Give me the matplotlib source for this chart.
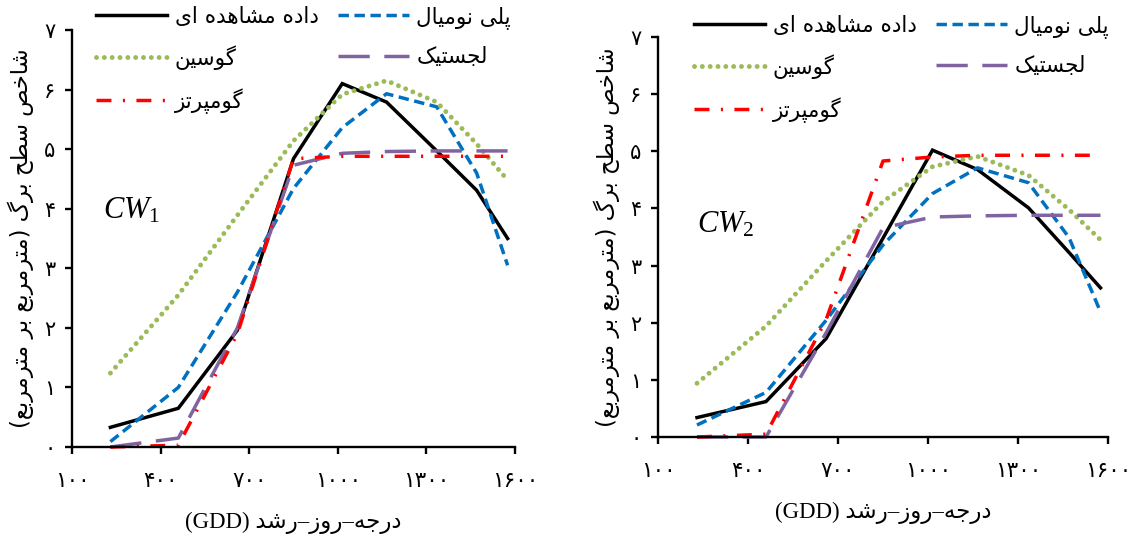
import matplotlib
matplotlib.use('Agg')
import matplotlib.pyplot as plt

# ---------------- data ----------------
gdd = [230, 460, 660, 850, 1015, 1165, 1335, 1470, 1575]

cw1_obs   = [0.33, 0.65, 1.96, 4.84, 6.10, 5.79, 4.97, 4.31, 3.50]
cw1_poly  = [0.09, 1.00, 2.60, 4.34, 5.36, 5.93, 5.71, 4.60, 3.05]
cw1_gauss = [1.24, 2.55, 3.89, 5.14, 5.92, 6.15, 5.79, 5.09, 4.48]
cw1_logis = [0.00, 0.15, 2.00, 4.73, 4.93, 4.96, 4.97, 4.97, 4.97]
cw1_gomp  = [0.00, 0.03, 1.90, 4.84, 4.88, 4.88, 4.88, 4.88, 4.88]

cw2_obs   = [0.34, 0.62, 1.72, 3.48, 5.02, 4.68, 4.01, 3.23, 2.61]
cw2_poly  = [0.21, 0.78, 2.04, 3.36, 4.26, 4.71, 4.45, 3.49, 2.19]
cw2_gauss = [0.94, 1.94, 3.08, 4.12, 4.73, 4.91, 4.58, 3.98, 3.45]
cw2_logis = [0.00, 0.00, 1.82, 3.66, 3.85, 3.87, 3.88, 3.88, 3.88]
cw2_gomp  = [0.00, 0.05, 2.05, 4.83, 4.90, 4.93, 4.93, 4.93, 4.93]

x_ticks = [100, 400, 700, 1000, 1300, 1600]
x_tick_labels = ['۱۰۰', '۴۰۰', '۷۰۰', '۱۰۰۰', '۱۳۰۰', '۱۶۰۰']
y_ticks = [0, 1, 2, 3, 4, 5, 6, 7]
y_tick_labels = ['۰', '۱', '۲', '۳', '۴', '۵', '۶', '۷']

lbl_obs = 'داده مشاهده ای'
lbl_poly = 'پلی نومیال'
lbl_gauss = 'گوسین'
lbl_logis = 'لجستیک'
lbl_gomp = 'گومپرتز'
y_title = 'شاخص سطح برگ (مترمربع بر مترمربع)'
x_title_fa = 'درجه–روز–رشد'
x_title_en = '(GDD)'

# ---------------- Persian shaping (presentation forms) ----------------
FORMS = {
    '\u0627': (0xFE8D, 0xFE8E, None, None),
    '\u0628': (0xFE8F, 0xFE90, 0xFE91, 0xFE92),
    '\u062A': (0xFE95, 0xFE96, 0xFE97, 0xFE98),
    '\u062C': (0xFE9D, 0xFE9E, 0xFE9F, 0xFEA0),
    '\u062D': (0xFEA1, 0xFEA2, 0xFEA3, 0xFEA4),
    '\u062E': (0xFEA5, 0xFEA6, 0xFEA7, 0xFEA8),
    '\u062F': (0xFEA9, 0xFEAA, None, None),
    '\u0631': (0xFEAD, 0xFEAE, None, None),
    '\u0632': (0xFEAF, 0xFEB0, None, None),
    '\u0633': (0xFEB1, 0xFEB2, 0xFEB3, 0xFEB4),
    '\u0634': (0xFEB5, 0xFEB6, 0xFEB7, 0xFEB8),
    '\u0635': (0xFEB9, 0xFEBA, 0xFEBB, 0xFEBC),
    '\u0637': (0xFEC1, 0xFEC2, 0xFEC3, 0xFEC4),
    '\u0639': (0xFEC9, 0xFECA, 0xFECB, 0xFECC),
    '\u0644': (0xFEDD, 0xFEDE, 0xFEDF, 0xFEE0),
    '\u0645': (0xFEE1, 0xFEE2, 0xFEE3, 0xFEE4),
    '\u0646': (0xFEE5, 0xFEE6, 0xFEE7, 0xFEE8),
    '\u0647': (0xFEE9, 0xFEEA, 0xFEEB, 0xFEEC),
    '\u0648': (0xFEED, 0xFEEE, None, None),
    '\u067E': (0xFB56, 0xFB57, 0xFB58, 0xFB59),
    '\u06A9': (0xFB8E, 0xFB8F, 0xFB90, 0xFB91),
    '\u06AF': (0xFB92, 0xFB93, 0xFB94, 0xFB95),
    '\u06CC': (0xFBFC, 0xFBFD, 0xFBFE, 0xFBFF),
}


def rtl(text):
    chars = list(text)
    out = []
    for i, c in enumerate(chars):
        if c not in FORMS:
            out.append(c)
            continue
        f = FORMS[c]
        prev = chars[i - 1] if i > 0 else None
        nxt = chars[i + 1] if i + 1 < len(chars) else None
        jp = prev in FORMS and FORMS[prev][2] is not None
        jn = f[2] is not None and nxt in FORMS
        if jp and jn:
            cp = f[3]
        elif jp:
            cp = f[1]
        elif jn:
            cp = f[2]
        else:
            cp = f[0]
        out.append(chr(cp))
    vis = ''.join(reversed(out))
    return vis.translate(str.maketrans('()', ')('))


# ---------------- style ----------------
plt.rcParams['font.family'] = ['DejaVu Sans']
plt.rcParams['mathtext.fontset'] = 'custom'
plt.rcParams['mathtext.it'] = 'Liberation Serif:italic'
plt.rcParams['mathtext.rm'] = 'Liberation Serif'

C_OBS = '#000000'
C_POLY = '#0070C0'
C_GAUSS = '#9BBB59'
C_LOGIS = '#8064A2'
C_GOMP = '#FF0000'

fig = plt.figure(figsize=(11.34, 5.38), dpi=100)
W, H = 1134.0, 538.0

panels = [
    dict(rect=(72, 30, 515, 447), data=(cw1_obs, cw1_poly, cw1_gauss, cw1_logis, cw1_gomp),
         tag=r'$\mathit{CW}_{\mathit{1}}$', tag_xy=(205, 3.98), leg=(96, 6)),
    dict(rect=(658, 37, 1108, 437), data=(cw2_obs, cw2_poly, cw2_gauss, cw2_logis, cw2_gomp),
         tag=r'$\mathit{CW}_{\mathit{2}}$', tag_xy=(230, 3.72), leg=(694, 15)),
]

for p in panels:
    x0, y0, x1, y1 = p['rect']
    ax = fig.add_axes([x0 / W, 1 - y1 / H, (x1 - x0) / W, (y1 - y0) / H])
    obs, poly, gauss, logis, gomp = p['data']
    lw = 2.5
    h_obs, = ax.plot(gdd, obs, color=C_OBS, lw=lw, solid_joinstyle='miter')
    h_poly, = ax.plot(gdd, poly, color=C_POLY, lw=lw, linestyle=(0, (3.0, 1.6)))
    h_gauss, = ax.plot(gdd, gauss, color=C_GAUSS, lw=3.5, linestyle=(0, (0.01, 1.6)),
                       dash_capstyle='round')
    h_logis, = ax.plot(gdd, logis, color=C_LOGIS, lw=lw, linestyle=(0, (9.0, 4.2)))
    h_gomp, = ax.plot(gdd, gomp, color=C_GOMP, lw=lw, linestyle=(0, (4.3, 3.3, 0.6, 3.3)))

    ax.set_xlim(100, 1600)
    ax.set_ylim(0, 7)
    ax.set_xticks(x_ticks)
    ax.set_xticklabels(x_tick_labels, fontsize=15.5)
    ax.set_yticks(y_ticks)
    ax.set_yticklabels(y_tick_labels, fontsize=15)
    for s in ('top', 'right'):
        ax.spines[s].set_visible(False)
    for s in ('left', 'bottom'):
        ax.spines[s].set_linewidth(1.7)
    ax.tick_params(direction='out', length=5, width=1.7, pad=7)
    ax.tick_params(axis='x', pad=12)
    for ln in ax.lines:
        ln.set_clip_on(False)

    ax.set_ylabel(rtl(y_title), fontsize=16.3, labelpad=7)
    ax.set_xlabel(x_title_en + ' ' + rtl(x_title_fa), fontsize=16.5, labelpad=15,
                  family=['Liberation Serif', 'DejaVu Sans'])
    ax.text(p['tag_xy'][0], p['tag_xy'][1], p['tag'], fontsize=22, va='center', ha='left')

    lx, ly = p['leg']
    fig.legend([h_obs, h_gauss, h_gomp, h_poly, h_logis],
               [rtl(lbl_obs), rtl(lbl_gauss), rtl(lbl_gomp), rtl(lbl_poly), rtl(lbl_logis)],
               ncol=2, frameon=False, loc='upper left',
               bbox_to_anchor=(lx / W, 1 - ly / H), bbox_transform=fig.transFigure,
               borderpad=0, borderaxespad=0, handlelength=3.3, handletextpad=0.35,
               columnspacing=0.9, labelspacing=0.85, fontsize=15.5)

fig.savefig('out.png', dpi=100)
